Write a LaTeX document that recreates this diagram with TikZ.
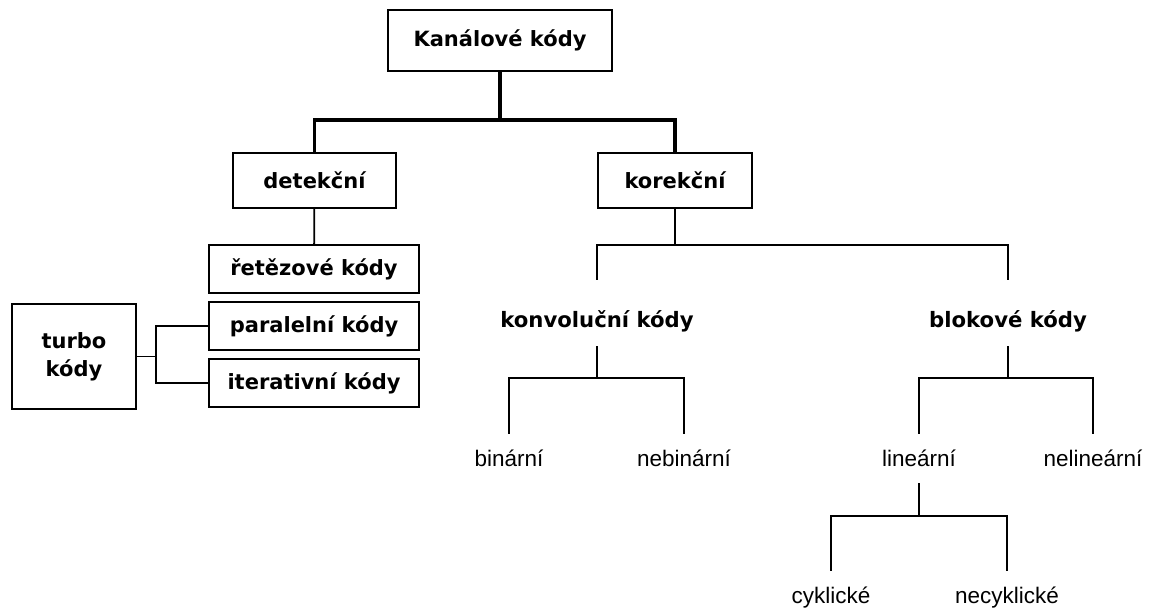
\documentclass[tikz,border=0pt]{standalone}
\usepackage{fontspec}
\setmainfont{Liberation Sans}
\newfontfamily\tahoma{DejaVu Sans}
\usetikzlibrary{positioning}

\begin{document}
\begin{tikzpicture}[x=1pt,y=-1pt,
    box/.style={draw,line width=2.2pt,inner sep=0pt,align=center,
      font=\tahoma\bfseries\fontsize{21}{28}\selectfont},
    boldlbl/.style={anchor=base,inner xsep=0pt,inner ysep=14pt,text height=33pt,text depth=5pt,
      font=\tahoma\bfseries\fontsize{21.2}{25}\selectfont},
    lbl/.style={anchor=base,inner xsep=0pt,inner ysep=12pt,text height=20pt,text depth=5pt,
      font=\fontsize{22.5}{26}\selectfont},
    thickline/.style={line width=3.5pt},
    thinline/.style={line width=1.8pt}]
    \useasboundingbox (0,0) rectangle (1156,612);
    % boxes
    \node[box,minimum width=224,minimum height=61] (kan) at (500,40.5) {Kanálové kódy};
    \node[box,minimum width=163,minimum height=55] (det) at (314.5,180.5) {detekční};
    \node[box,minimum width=154,minimum height=55] (kor) at (675,180.5) {korekční};
    \node[box,minimum width=210,minimum height=48] (ret) at (314,269) {řetězové kódy};
    \node[box,minimum width=210,minimum height=48] (par) at (314,326) {paralelní kódy};
    \node[box,minimum width=210,minimum height=48] (ite) at (314,383) {iterativní kódy};
    \node[box,minimum width=124,minimum height=105] (tur) at (74,356.5) {turbo\\kódy};
    % labels without frame
    \node[boldlbl] (konv) at (597,327) {konvoluční kódy};
    \node[boldlbl] (blok) at (1008,327) {blokové kódy};
    \node[lbl] (bin) at (509,466) {binární};
    \node[lbl] (nebin) at (684,466) {nebinární};
    \node[lbl] (lin) at (919,466) {lineární};
    \node[lbl] (nelin) at (1093,466) {nelineární};
    \node[lbl] (cyk) at (831,603) {cyklické};
    \node[lbl] (necyk) at (1007,603) {necyklické};
    % junctions
    \coordinate (kj) at (500,120);
    \coordinate (kb) at (675,245);
    \coordinate (kvj) at (597,378);
    \coordinate (blj) at (1008,378);
    \coordinate (lij) at (919,516);
    \coordinate (tj) at (156,356.5);
    % connectors
    \draw[thickline] (kan) -- (kj);
    \draw[thickline] (det) -- (det |- kj) -- (kor |- kj) -- (kor);
    \draw[thinline] (det) -- (ret);
    \draw[thinline] (tur) -- (tj);
    \draw[thinline] (par.west) -| (tj) |- (ite.west);
    \draw[thinline] (kor) -- (kb);
    \draw[thinline] (konv) -- (konv |- kb) -- (blok |- kb) -- (blok);
    \draw[thinline] (konv) -- (kvj);
    \draw[thinline] (bin) -- (bin |- kvj) -- (nebin |- kvj) -- (nebin);
    \draw[thinline] (blok) -- (blj);
    \draw[thinline] (lin) -- (lin |- blj) -- (nelin |- blj) -- (nelin);
    \draw[thinline] (lin) -- (lij);
    \draw[thinline] (cyk) -- (cyk |- lij) -- (necyk |- lij) -- (necyk);
\end{tikzpicture}
\end{document}
